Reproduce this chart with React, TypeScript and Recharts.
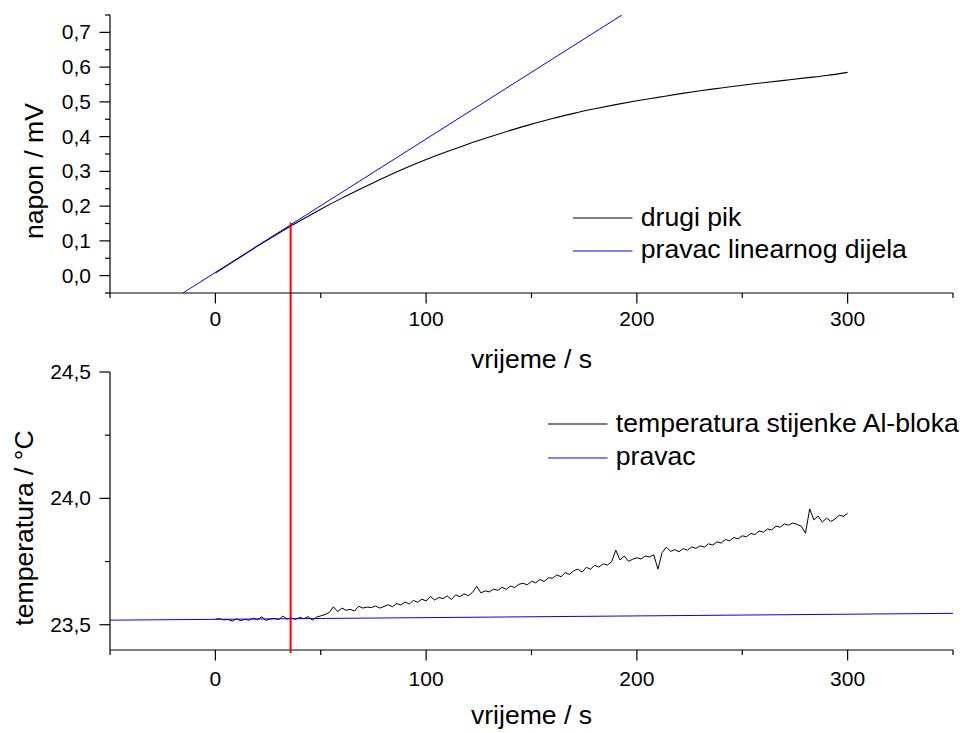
import { LineChart, Line, XAxis, YAxis, ReferenceLine, Legend } from "recharts";

const FONT = '"Liberation Sans", Arial, sans-serif';

// shared time axis (s)
const TIME_TICKS = [-50, 0, 50, 100, 150, 200, 250, 300, 350];

// upper panel: napon / mV
const NAPON_TICKS = [
  -0.05, 0, 0.05, 0.1, 0.15, 0.2, 0.25, 0.3, 0.35, 0.4, 0.45, 0.5, 0.55, 0.6,
  0.65, 0.7, 0.75,
];
const PIK_TIMES = [
  0, 10, 20, 30, 40, 50, 60, 70, 80, 90, 100, 110, 120, 130, 140, 150, 160,
  170, 180, 190, 200, 210, 220, 230, 240, 250, 260, 270, 280, 290, 300,
];
const PIK_VALUES = [
  0.008, 0.046, 0.085, 0.122, 0.157, 0.191, 0.223, 0.253, 0.282, 0.309, 0.334,
  0.357, 0.379, 0.399, 0.418, 0.436, 0.452, 0.467, 0.48, 0.492, 0.503, 0.513,
  0.523, 0.532, 0.54, 0.548, 0.555, 0.562, 0.569, 0.576, 0.585,
];
const FIT_TIMES = [-15.4, 192.9];
const FIT_VALUES = [-0.05, 0.75];

// red marker (tangent point, runs down through the lower panel)
const MARK_TIME = 35.7;
const MARK_TOP = 0.153;
const MARK_BOTTOM = -1.086;

// lower panel: temperatura / °C
const TEMP_TICKS = [23.5, 23.75, 24, 24.25, 24.5];
const TEMP_STEP = 2;
const TEMP_VALUES = [
  23.522, 23.524, 23.519, 23.521, 23.514, 23.523, 23.516, 23.521, 23.518,
  23.526, 23.52, 23.531, 23.517, 23.523, 23.525, 23.52, 23.534, 23.522,
  23.527, 23.521, 23.529, 23.524, 23.532, 23.518, 23.53, 23.535, 23.54,
  23.548, 23.571, 23.552, 23.566, 23.557, 23.561, 23.554, 23.573, 23.566,
  23.57, 23.568, 23.574, 23.566, 23.572, 23.579, 23.571, 23.584, 23.578,
  23.59, 23.582, 23.596, 23.589, 23.601, 23.594, 23.612, 23.598, 23.608,
  23.603, 23.614, 23.6, 23.618, 23.611, 23.622, 23.615, 23.628, 23.652,
  23.626, 23.634, 23.63, 23.641, 23.636, 23.648, 23.64, 23.653, 23.647,
  23.66, 23.664, 23.658, 23.672, 23.666, 23.679, 23.671, 23.686, 23.684,
  23.697, 23.69, 23.706, 23.699, 23.713, 23.72, 23.708, 23.727, 23.72,
  23.735, 23.728, 23.741, 23.736, 23.749, 23.795, 23.756, 23.772, 23.751,
  23.759, 23.765, 23.76, 23.772, 23.768, 23.777, 23.72, 23.786, 23.807,
  23.79, 23.797, 23.789, 23.801, 23.795, 23.808, 23.802, 23.812, 23.807,
  23.82, 23.815, 23.828, 23.823, 23.837, 23.832, 23.845, 23.84, 23.852,
  23.848, 23.861, 23.857, 23.871, 23.866, 23.879, 23.875, 23.89, 23.886,
  23.899, 23.894, 23.903, 23.897, 23.89, 23.862, 23.958, 23.915, 23.93,
  23.906, 23.922, 23.909, 23.918, 23.933, 23.929, 23.941,
];
const PRAVAC_TIMES = [-50, 350];
const PRAVAC_VALUES = [23.518, 23.545];

const TOP_NAMES = ["drugi pik", "pravac linearnog dijela"];
const BOTTOM_NAMES = ["temperatura stijenke Al-bloka", "pravac"];
const BLACK = "#000000";
const BLUE = "#0000ff";

const pikData = PIK_TIMES.map((t, i) => ({ t, v: PIK_VALUES[i] }));
const fitData = FIT_TIMES.map((t, i) => ({ t, v: FIT_VALUES[i] }));
const tempData = TEMP_VALUES.map((v, i) => ({ t: i * TEMP_STEP, v }));
const pravacData = PRAVAC_TIMES.map((t, i) => ({ t, v: PRAVAC_VALUES[i] }));

const comma = (v: number, d: number) => v.toFixed(d).replace(".", ",");

function XTick({ x, y, payload, gap }: any) {
  const v = payload.value;
  const major = v % 100 === 0;
  return (
    <g>
      <line x1={x} y1={y} x2={x} y2={y + (major ? 10.5 : 5)} stroke="#000" strokeWidth={1.2} />
      {major && (
        <text x={x} y={y + gap} textAnchor="middle" fontSize={21} fontFamily={FONT} fill="#000">
          {v}
        </text>
      )}
    </g>
  );
}

function YTick({ x, y, payload, isMajor, digits }: any) {
  const v = payload.value;
  const major = isMajor(v);
  return (
    <g>
      <line x1={x - (major ? 10.5 : 5)} y1={y} x2={x} y2={y} stroke="#000" strokeWidth={1.2} />
      {major && (
        <text x={x - 19} y={y + 7} textAnchor="end" fontSize={21} fontFamily={FONT} fill="#000">
          {comma(v, digits)}
        </text>
      )}
    </g>
  );
}

function XTitle({ viewBox, text, dy }: any) {
  const { x, y, width } = viewBox;
  return (
    <text x={x + width / 2} y={y + dy} textAnchor="middle" fontSize={26.6} fontFamily={FONT} fill="#000">
      {text}
    </text>
  );
}

function YTitle({ viewBox, text, baseX }: any) {
  const { y, height } = viewBox;
  const cy = y + height / 2 + 17;
  return (
    <text
      x={baseX}
      y={cy}
      transform={`rotate(-90 ${baseX} ${cy})`}
      textAnchor="middle"
      fontSize={26.6}
      fontFamily={FONT}
      fill="#000"
    >
      {text}
    </text>
  );
}

function SeriesLegend({ payload, rowHeight, order }: any) {
  const items = [...(payload || [])].sort(
    (a: any, b: any) => order.indexOf(a.value) - order.indexOf(b.value)
  );
  return (
    <div style={{ fontFamily: FONT, fontSize: 26.6, color: "#000" }}>
      {items.map((e: any) => {
        const c = (e.payload && e.payload.stroke) || e.color;
        return (
          <div key={e.value} style={{ display: "flex", alignItems: "center", height: rowHeight }}>
            <svg width={59.5} height={4} style={{ marginRight: 8.3, display: "block" }}>
              <line x1={0} y1={2} x2={59.5} y2={2} stroke={c} strokeWidth={1.1} />
            </svg>
            <span style={{ lineHeight: 1, whiteSpace: "nowrap", position: "relative", top: -1 }}>
              {e.value}
            </span>
          </div>
        );
      })}
    </div>
  );
}

const axisLine = { stroke: "#000", strokeWidth: 1.2 };
const isTenth = (v: number) => Math.abs(v * 10 - Math.round(v * 10)) < 1e-6;
const isHalf = (v: number) => Math.abs(v * 2 - Math.round(v * 2)) < 1e-6;

export default function App() {
  return (
    <div style={{ position: "absolute", left: 0, top: 0, width: 968, height: 733, background: "#fff" }}>
      <div style={{ position: "absolute", left: 0, top: 0 }}>
        <LineChart width={968} height={733} margin={{ top: 372, right: 15, left: 0, bottom: 3 }}>
          <XAxis
            type="number"
            dataKey="t"
            domain={[-50, 350]}
            ticks={TIME_TICKS}
            interval={0}
            allowDataOverflow
            height={80}
            tickSize={0}
            tickMargin={0}
            tickLine={false}
            axisLine={axisLine}
            tick={(p: any) => <XTick {...p} gap={36} />}
            label={<XTitle text="vrijeme / s" dy={74} />}
          />
          <YAxis
            type="number"
            dataKey="v"
            domain={[23.4, 24.5]}
            ticks={TEMP_TICKS}
            interval={0}
            allowDataOverflow
            width={110}
            tickSize={0}
            tickMargin={0}
            tickLine={false}
            axisLine={axisLine}
            tick={(p: any) => <YTick {...p} isMajor={isHalf} digits={1} />}
            label={<YTitle text="temperatura / °C" baseX={33} />}
          />
          <Line
            data={tempData}
            dataKey="v"
            name={BOTTOM_NAMES[0]}
            type="linear"
            stroke={BLACK}
            strokeWidth={1}
            dot={false}
            isAnimationActive={false}
          />
          <Line
            data={pravacData}
            dataKey="v"
            name={BOTTOM_NAMES[1]}
            type="linear"
            stroke={BLUE}
            strokeWidth={1}
            dot={false}
            isAnimationActive={false}
          />
          <Legend
            layout="horizontal"
            verticalAlign="middle"
            align="center"
            wrapperStyle={{ left: 548, top: 407, width: "auto" }}
            content={(p: any) => (
              <SeriesLegend payload={p.payload} rowHeight={33.7} order={BOTTOM_NAMES} />
            )}
          />
        </LineChart>
      </div>
      <div style={{ position: "absolute", left: 0, top: 0 }}>
        <LineChart width={968} height={733} margin={{ top: 15, right: 15, left: 0, bottom: 340 }}>
          <XAxis
            type="number"
            dataKey="t"
            domain={[-50, 350]}
            ticks={TIME_TICKS}
            interval={0}
            allowDataOverflow
            height={100}
            tickSize={0}
            tickMargin={0}
            tickLine={false}
            axisLine={axisLine}
            tick={(p: any) => <XTick {...p} gap={33} />}
            label={<XTitle text="vrijeme / s" dy={75} />}
          />
          <YAxis
            type="number"
            dataKey="v"
            domain={[-0.05, 0.75]}
            ticks={NAPON_TICKS}
            interval={0}
            allowDataOverflow
            width={110}
            tickSize={0}
            tickMargin={0}
            tickLine={false}
            axisLine={axisLine}
            tick={(p: any) => <YTick {...p} isMajor={isTenth} digits={1} />}
            label={<YTitle text="napon / mV" baseX={43} />}
          />
          <Line
            data={pikData}
            dataKey="v"
            name={TOP_NAMES[0]}
            type="monotone"
            stroke={BLACK}
            strokeWidth={1.1}
            dot={false}
            isAnimationActive={false}
          />
          <Line
            data={fitData}
            dataKey="v"
            name={TOP_NAMES[1]}
            type="linear"
            stroke={BLUE}
            strokeWidth={1}
            dot={false}
            isAnimationActive={false}
          />
          <ReferenceLine
            segment={[
              { x: MARK_TIME, y: MARK_TOP },
              { x: MARK_TIME, y: MARK_BOTTOM },
            ]}
            stroke="#ff0000"
            strokeWidth={2}
            ifOverflow="visible"
          />
          <Legend
            layout="horizontal"
            verticalAlign="middle"
            align="center"
            wrapperStyle={{ left: 573, top: 202, width: "auto" }}
            content={(p: any) => (
              <SeriesLegend payload={p.payload} rowHeight={32.4} order={TOP_NAMES} />
            )}
          />
        </LineChart>
      </div>
    </div>
  );
}
